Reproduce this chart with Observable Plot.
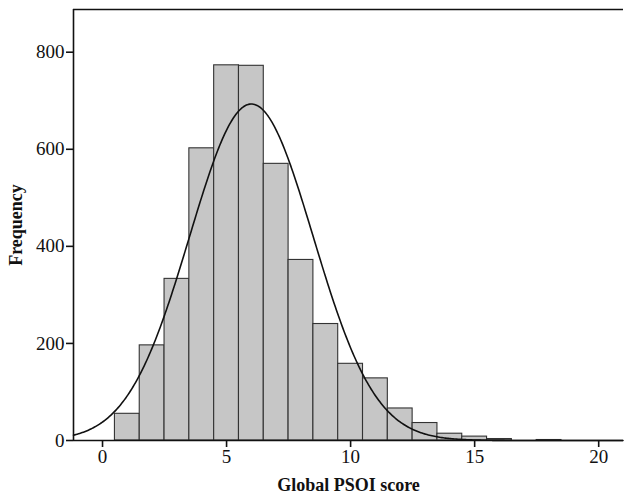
<!DOCTYPE html>
<html>
<head>
<meta charset="utf-8">
<script src="https://cdn.jsdelivr.net/npm/d3@7"></script>
<script src="https://cdn.jsdelivr.net/npm/@observablehq/plot@0.6"></script>
<style>
  html, body { margin: 0; padding: 0; background: #fff; }
</style>
</head>
<body>
<div id="chart"></div>
<script>
// Histogram bins (width 1), lower edges and counts
const binStart = [0.5, 1.5, 2.5, 3.5, 4.5, 5.5, 6.5, 7.5, 8.5, 9.5, 10.5, 11.5, 12.5, 13.5, 14.5, 15.5, 16.5, 17.5];
const counts   = [55, 196, 333, 602, 773, 772, 570, 372, 240, 158, 128, 66, 36, 14, 8, 3, 0, 1];
const binWidth = 1;

// Fitted normal curve parameters (as drawn by the stats package)
const fitMean = 6.0;
const fitSd = 2.49;
const fitN = 4327;

const xTicks = [0, 5, 10, 15, 20];
const yTicks = [0, 200, 400, 600, 800];
const xDomain = [-1.17, 21];
const yDomain = [0, 888];

const bins = binStart.map((s, i) => ({x1: s, x2: s + binWidth, y: counts[i]}));
const curveX = d3.range(xDomain[0], xDomain[1] + 0.001, 0.05);
const curve = curveX.map(x => ({
  x,
  y: fitN * binWidth / (fitSd * Math.sqrt(2 * Math.PI)) * Math.exp(-((x - fitMean) ** 2) / (2 * fitSd * fitSd))
}));

const font = "'Liberation Serif', 'DejaVu Serif', serif";

const chart = Plot.plot({
  width: 624,
  height: 498,
  marginLeft: 73,
  marginTop: 9,
  marginRight: 1,
  marginBottom: 58,
  style: {fontFamily: font, fontSize: "19px", color: "#111", background: "#fff"},
  x: {domain: xDomain, ticks: xTicks, tickSize: 7, tickPadding: 2, label: null},
  y: {domain: yDomain, ticks: yTicks, tickSize: 7, tickPadding: 2, label: null},
  marks: [
    Plot.rectY(bins, {x1: "x1", x2: "x2", y: "y", fill: "#c6c6c6", stroke: "#333", strokeWidth: 1.1}),
    Plot.line(curve, {x: "x", y: "y", stroke: "#111", strokeWidth: 1.6, curve: "linear"}),
    Plot.ruleY([0], {stroke: "#111", strokeWidth: 1.6}),
    Plot.ruleY([yDomain[1]], {stroke: "#111", strokeWidth: 1.6}),
    Plot.ruleX([xDomain[0]], {stroke: "#111", strokeWidth: 1.6}),
    Plot.axisX({ticks: xTicks, tickSize: 7, tickPadding: 2, fontSize: 19, stroke: "#111", strokeWidth: 1.6}),
    Plot.axisY({ticks: yTicks, tickSize: 7, tickPadding: 2, fontSize: 19, stroke: "#111", strokeWidth: 1.6}),
    Plot.text(["Global PSOI score"], {frameAnchor: "bottom", dy: 50, text: d => d, fontSize: 18, fontWeight: "bold", fill: "#111"}),
    Plot.text(["Frequency"], {frameAnchor: "left", textAnchor: "middle", dx: -57, rotate: -90, text: d => d, fontSize: 18, fontWeight: "bold", fill: "#111"})
  ]
});
document.getElementById("chart").appendChild(chart);
</script>
</body>
</html>
